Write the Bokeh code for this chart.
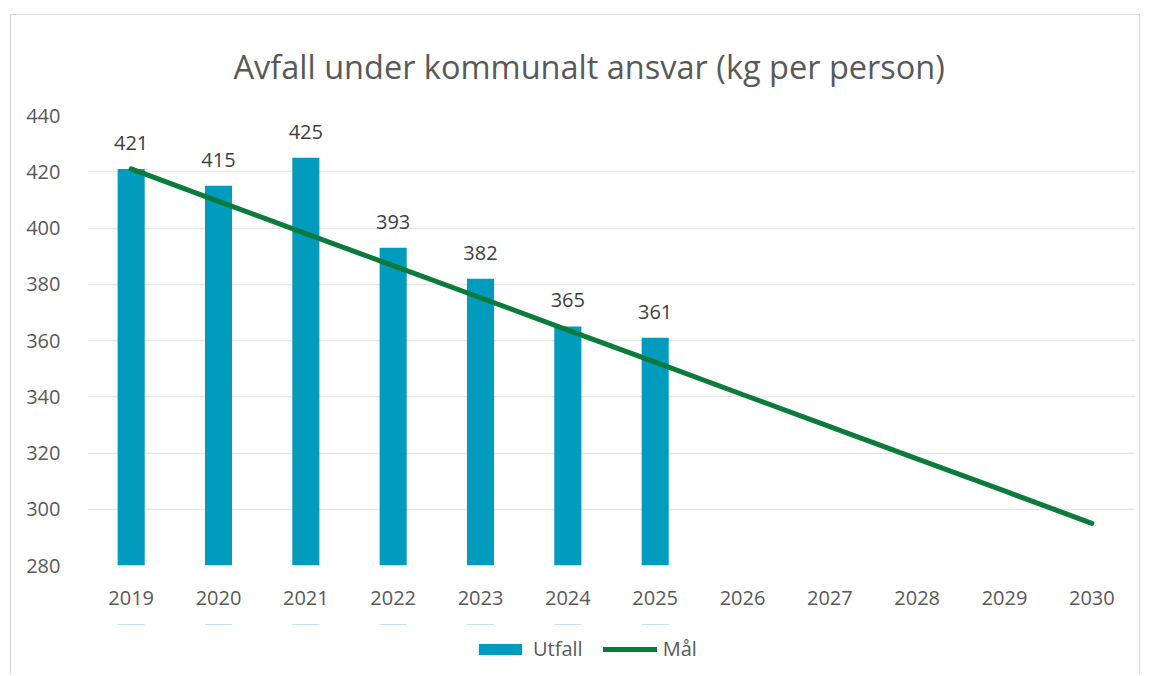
from bokeh.plotting import figure
from bokeh.layouts import column
from bokeh.models import ColumnDataSource, LabelSet, Legend, LegendItem, SingleIntervalTicker, Range1d, FactorRange
from bokeh.core.properties import value
from bokeh.embed import file_html
from bokeh.resources import INLINE

years = ["2019", "2020", "2021", "2022", "2023", "2024", "2025", "2026", "2027", "2028", "2029", "2030"]
utfall_years = ["2019", "2020", "2021", "2022", "2023", "2024", "2025"]
utfall = [421, 415, 425, 393, 382, 365, 361]
maal = [421, 409.5, 398, 386.6, 375.2, 363.7, 352.3, 340.8, 329.4, 317.9, 306.5, 295]

FONT = "Open Sans"
TXT = "#595959"
BAR = "#009BBD"
LINE = "#0A7B3B"
BORDER = "1px solid #d9d9d9"

p = figure(x_range=years, y_range=(280, 440), width=1130, height=610,
           output_backend="svg", toolbar_location=None,
           min_border_left=76, min_border_right=6, min_border_top=100, min_border_bottom=60)
p.margin = (14, 0, 0, 10)
p.styles = {"border-left": BORDER, "border-top": BORDER, "border-right": BORDER}

p.title.text = "Avfall under kommunalt ansvar (kg per person)"
p.title.text_font = FONT
p.title.text_font_size = "32.5px"
p.title.text_font_style = "normal"
p.title.text_color = TXT
p.title.align = "left"
p.title.offset = 146
p.title.standoff = 53

p.outline_line_color = None
p.background_fill_color = "white"
p.border_fill_color = "white"

src_b = ColumnDataSource(dict(x=utfall_years, y=utfall, lbl=[str(v) for v in utfall]))
src_l = ColumnDataSource(dict(x=years, y=maal))

bars = p.vbar(x="x", top="y", bottom=280, width=0.31, source=src_b,
              fill_color=BAR, line_color=None)
line = p.line(x="x", y="y", source=src_l, line_color=LINE, line_width=5,
              line_cap="round")

labels = LabelSet(x="x", y="y", text="lbl", source=src_b, text_align="center",
                  text_baseline="alphabetic", y_offset=19, text_font=value(FONT),
                  text_font_size=value("20px"), text_color="#404040")
p.add_layout(labels)

p.yaxis.ticker = SingleIntervalTicker(interval=20)
for ax in (p.xaxis[0], p.yaxis[0]):
    ax.axis_line_color = None
    ax.major_tick_line_color = None
    ax.minor_tick_line_color = None
    ax.major_label_text_font = FONT
    ax.major_label_text_font_size = "20px"
    ax.major_label_text_color = TXT
p.yaxis.major_label_standoff = 21
p.xaxis.major_label_standoff = 19

p.xgrid.grid_line_color = None
p.ygrid.grid_line_color = "#E6E6E6"
p.ygrid.grid_line_width = 1.5
p.x_range.range_padding = 0

# legend strip below the chart (same series, drawn outside its own visible range)
q = figure(width=1130, height=50, output_backend="svg", toolbar_location=None,
           x_range=FactorRange(*years), y_range=Range1d(0, 1),
           min_border_left=0, min_border_right=0, min_border_top=0, min_border_bottom=0)
q.margin = (0, 0, 0, 10)
q.styles = {"border-left": BORDER, "border-right": BORDER}
q.axis.visible = False
q.grid.visible = False
q.outline_line_color = None
q.background_fill_color = "white"
q.border_fill_color = "white"
lb = q.vbar(x="x", top="y", bottom="y", width=0.31, source=src_b,
            fill_color=BAR, line_color=None)
ll = q.line(x="x", y="y", source=src_l, line_color=LINE, line_width=5, line_cap="round")

legend = Legend(items=[LegendItem(label="Utfall", renderers=[lb]),
                       LegendItem(label="Mål", renderers=[ll])],
                orientation="horizontal", location=(386, 12),
                glyph_width=54, glyph_height=14, label_standoff=6, spacing=20,
                padding=0, margin=0, border_line_color=None,
                background_fill_alpha=0, label_text_font=FONT,
                label_text_font_size="20px", label_text_color=TXT)
q.add_layout(legend)

layout = column(p, q, spacing=0)
open("out.html", "w").write(file_html(layout, INLINE))
